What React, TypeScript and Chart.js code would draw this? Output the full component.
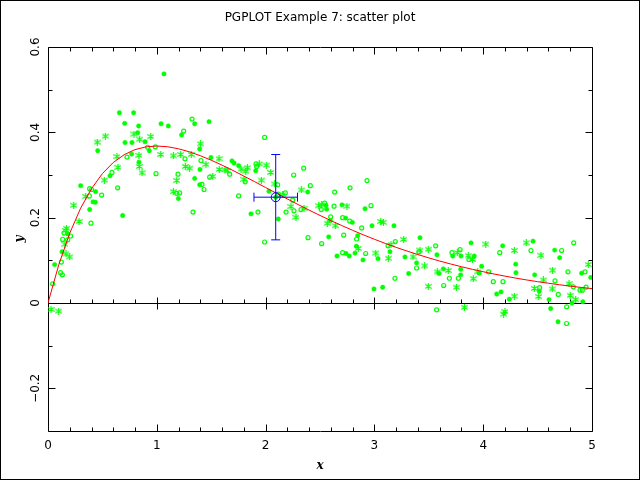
import React, { useEffect, useRef } from "react";
import { Chart, registerables } from "chart.js";

Chart.register(...registerables);

// ---- data ----
const titleText = "PGPLOT Example 7: scatter plot";
const xAxisLabel = "x";
const yAxisLabel = "y";
const xTickValues = [0, 1, 2, 3, 4, 5];
const xTickLabels = ["0", "1", "2", "3", "4", "5"];
const yTickValues = [0.6, 0.4, 0.2, 0, -0.2];
const yTickLabels = ["0.6", "0.4", "0.2", "0", "\u22120.2"];

// symbol 3 (asterisk)
const asteriskPoints: [number, number][] = [
  [0.527, 0.391], [0.453, 0.377], [0.79, 0.396], [0.944, 0.39], [0.842, 0.384],
  [0.634, 0.343], [0.836, 0.346], [1.036, 0.348], [1.152, 0.345], [0.839, 0.32],
  [0.643, 0.318], [0.864, 0.305], [0.518, 0.288], [0.346, 0.25], [1.152, 0.261],
  [1.183, 0.287], [0.236, 0.229], [0.285, 0.191], [0.171, 0.175], [0.165, 0.17],
  [0.156, 0.138], [0.165, 0.115], [0.199, 0.108], [0.028, -0.015], [0.098, -0.019],
  [1.4, 0.373], [1.219, 0.348], [1.317, 0.348], [1.572, 0.338], [1.452, 0.325],
  [1.942, 0.326], [2.006, 0.323], [1.262, 0.32], [1.302, 0.316], [1.574, 0.313],
  [1.627, 0.312], [1.648, 0.31], [1.774, 0.314], [1.832, 0.317], [1.817, 0.309],
  [2.047, 0.306], [1.514, 0.297], [1.801, 0.29], [1.961, 0.288], [2.083, 0.279],
  [2.328, 0.265], [2.157, 0.254], [2.233, 0.226], [2.353, 0.222], [2.279, 0.201],
  [2.488, 0.228], [2.515, 0.23], [2.748, 0.227], [2.567, 0.187], [2.641, 0.181],
  [3.058, 0.191], [3.082, 0.189], [2.852, 0.128], [3.012, 0.117], [3.128, 0.105],
  [3.153, 0.137], [3.269, 0.149], [3.419, 0.124], [3.355, 0.108], [3.495, 0.126],
  [3.462, 0.087], [3.578, 0.073], [3.495, 0.039],
  [4.023, 0.138], [4.396, 0.141], [4.286, 0.123], [4.531, 0.112], [3.762, 0.118],
  [3.863, 0.111], [3.9, 0.102], [3.679, 0.076], [3.753, 0.037], [3.949, 0.073],
  [3.909, 0.057], [4.286, 0.016], [4.553, 0.054], [4.47, 0.034], [4.51, 0.015],
  [4.638, 0.077], [4.635, 0.033], [4.789, 0.045], [4.8, 0.018], [4.85, 0.008],
  [4.966, 0.09], [3.827, -0.01], [4.2, -0.02], [4.188, -0.026],
];

// symbol 17 (filled circle)
const filledPoints: [number, number][] = [
  [1.066, 0.537], [0.656, 0.446], [0.787, 0.446], [0.705, 0.421], [0.833, 0.415],
  [1.039, 0.42], [1.106, 0.415], [0.824, 0.399], [0.708, 0.376], [0.772, 0.376],
  [0.892, 0.378], [0.931, 0.357], [0.457, 0.357], [0.769, 0.349], [0.836, 0.33],
  [0.57, 0.298], [0.3, 0.275], [0.438, 0.261], [1.198, 0.245], [0.414, 0.237],
  [0.435, 0.236], [0.383, 0.219], [0.686, 0.205], [0.181, 0.162], [0.129, 0.12],
  [0.061, 0.09],
  [1.348, 0.42], [1.48, 0.425], [1.228, 0.394], [1.394, 0.361], [1.498, 0.341],
  [1.691, 0.333], [1.71, 0.328], [1.752, 0.322], [1.397, 0.313], [1.909, 0.31],
  [1.348, 0.292], [2.387, 0.26], [1.394, 0.277], [2.031, 0.262], [2.117, 0.197],
  [1.866, 0.209], [2.093, 0.248],
  [2.555, 0.229], [2.561, 0.22], [2.702, 0.23], [2.914, 0.221], [2.595, 0.193],
  [2.736, 0.199], [2.797, 0.189], [2.978, 0.181], [3.18, 0.181], [2.58, 0.155],
  [2.847, 0.158], [2.834, 0.133], [2.656, 0.11], [2.739, 0.116], [2.769, 0.11],
  [2.822, 0.117], [2.895, 0.101], [3.033, 0.104], [3.143, 0.12], [3.419, 0.153],
  [3.281, 0.108], [3.575, 0.113], [3.388, 0.094], [3.315, 0.069], [3.594, 0.069],
  [3.634, 0.08], [2.996, 0.033], [3.076, 0.037],
  [3.888, 0.141], [4.179, 0.134], [4.458, 0.145], [4.657, 0.124], [4.703, 0.106],
  [3.72, 0.11], [3.796, 0.11], [3.918, 0.11], [3.986, 0.086], [3.793, 0.079],
  [3.793, 0.066], [3.964, 0.07], [4.299, 0.091], [4.301, 0.071], [4.124, 0.021],
  [4.164, 0.026], [4.24, 0.009], [4.473, 0.066], [4.515, 0.028], [4.605, 0.008],
  [4.816, 0.0], [4.915, 0.003], [4.905, 0.07], [4.988, 0.06], [4.62, -0.013],
  [4.688, -0.044],
];

// symbol 21 (open circle)
const openPoints: [number, number][] = [
  [0.916, 0.365], [0.986, 0.366], [0.726, 0.342], [0.993, 0.303], [0.588, 0.306],
  [0.64, 0.27], [0.383, 0.268], [0.401, 0.266], [0.38, 0.251], [0.493, 0.253],
  [1.183, 0.257], [1.195, 0.302], [0.395, 0.187], [0.147, 0.164], [0.208, 0.157],
  [0.135, 0.149], [0.181, 0.148], [0.123, 0.096], [0.116, 0.071], [0.132, 0.066],
  [0.043, 0.045],
  [1.324, 0.431], [1.247, 0.403], [1.991, 0.388], [1.259, 0.338], [1.406, 0.334],
  [1.912, 0.326], [1.918, 0.32], [1.67, 0.302], [1.486, 0.295], [1.813, 0.284],
  [2.111, 0.277], [2.35, 0.316], [2.258, 0.3], [2.411, 0.275], [1.415, 0.278],
  [1.434, 0.266], [1.21, 0.258], [1.752, 0.251], [2.117, 0.255], [2.181, 0.258],
  [2.249, 0.241], [2.261, 0.216], [2.325, 0.219], [2.188, 0.213], [1.93, 0.213],
  [1.333, 0.213], [1.991, 0.143], [2.39, 0.153],
  [2.932, 0.287], [2.776, 0.27], [2.635, 0.26], [2.543, 0.234], [2.512, 0.219],
  [2.629, 0.227], [2.969, 0.228], [2.598, 0.202], [2.708, 0.2], [2.773, 0.192],
  [2.883, 0.176], [2.718, 0.159], [2.837, 0.15], [2.515, 0.139], [2.708, 0.118],
  [2.92, 0.116], [3.125, 0.134], [3.192, 0.144], [3.41, 0.12], [3.563, 0.134],
  [3.388, 0.082], [3.189, 0.058], [3.637, 0.041], [3.572, -0.016],
  [4.152, 0.118], [4.439, 0.123], [4.721, 0.123], [4.832, 0.141], [3.713, 0.118],
  [3.787, 0.125], [3.869, 0.102], [3.689, 0.058], [3.772, 0.058], [4.05, 0.073],
  [4.093, 0.05], [4.182, 0.05], [4.519, 0.036], [4.66, 0.052], [4.69, 0.02],
  [4.779, 0.073], [4.828, 0.038], [4.89, 0.03], [4.911, 0.03], [4.936, 0.073],
  [4.945, 0.037], [4.767, -0.009], [4.767, -0.048],
];

// parent distribution curve (red)
const curveX = [
  0, 0.1, 0.2, 0.3, 0.4, 0.5, 0.6, 0.7, 0.8, 0.9, 1.0, 1.1, 1.2, 1.3, 1.4, 1.5, 1.6,
  1.7, 1.8, 1.9, 2.0, 2.1, 2.2, 2.3, 2.4, 2.5, 2.6, 2.7, 2.8, 2.9, 3.0, 3.1, 3.2, 3.3,
  3.4, 3.5, 3.6, 3.7, 3.8, 3.9, 4.0, 4.1, 4.2, 4.3, 4.4, 4.5, 4.6, 4.7, 4.8, 4.9, 5.0,
];
const curveY = [
  0, 0.0905, 0.1637, 0.2222, 0.2681, 0.3033, 0.3293, 0.3476, 0.3595, 0.3659, 0.3679,
  0.3662, 0.3614, 0.3543, 0.3452, 0.3347, 0.323, 0.3106, 0.2975, 0.2842, 0.2707,
  0.2572, 0.2438, 0.2306, 0.2177, 0.2052, 0.1931, 0.1815, 0.1703, 0.1596, 0.1494,
  0.1397, 0.1304, 0.1217, 0.1135, 0.1057, 0.0984, 0.0915, 0.085, 0.079, 0.0733,
  0.0679, 0.063, 0.0583, 0.054, 0.05, 0.0463, 0.0428, 0.0395, 0.0365, 0.0337,
];

// error-bar test point (blue)
const errX = 2.093;
const errY = 0.248;
const errSigX = 0.2;
const errSigY = 0.1;

const GREEN = "#00ff00";
const RED = "#ff0000";
const BLUE = "#0000ff";

function makeAsterisk(color: string): HTMLCanvasElement {
  const c = document.createElement("canvas");
  c.width = 7;
  c.height = 7;
  const g = c.getContext("2d")!;
  g.strokeStyle = color;
  g.lineWidth = 1.2;
  g.beginPath();
  g.moveTo(3.5, 0);
  g.lineTo(3.5, 7);
  g.moveTo(0.3, 1.6);
  g.lineTo(6.7, 5.4);
  g.moveTo(0.3, 5.4);
  g.lineTo(6.7, 1.6);
  g.stroke();
  return c;
}

const framePlugin = {
  id: "pgframe",
  beforeDraw(chart: any) {
    const ctx = chart.ctx as CanvasRenderingContext2D;
    ctx.save();
    ctx.fillStyle = "#ffffff";
    ctx.fillRect(0, 0, chart.width, chart.height);
    ctx.strokeStyle = "#000000";
    ctx.lineWidth = 1;
    ctx.strokeRect(0.5, 0.5, chart.width - 1, chart.height - 1);
    ctx.restore();
  },
  beforeDatasetsDraw(chart: any) {
    const ctx = chart.ctx as CanvasRenderingContext2D;
    const xs = chart.scales.x;
    const ys = chart.scales.y;
    const a = chart.chartArea;
    const L = Math.round(a.left) + 0.5;
    const R = Math.round(a.right) + 0.5;
    const T = Math.round(a.top) + 0.5;
    const B = Math.round(a.bottom) + 0.5;
    const Z = Math.round(ys.getPixelForValue(0)) + 0.5;
    ctx.save();
    ctx.strokeStyle = "#000000";
    ctx.lineWidth = 1;
    ctx.beginPath();
    ctx.rect(L, T, R - L, B - T);
    ctx.moveTo(L, Z);
    ctx.lineTo(R, Z);
    // x ticks every 0.2, major every 1
    for (let i = 0; i <= 25; i++) {
      const v = i / 5;
      const px = Math.round(xs.getPixelForValue(v)) + 0.5;
      const major = i % 5 === 0;
      const len = major ? 7 : 4;
      ctx.moveTo(px, B);
      ctx.lineTo(px, B - len);
      ctx.moveTo(px, T);
      ctx.lineTo(px, T + len);
      if (major) {
        ctx.moveTo(px, Z - 6);
        ctx.lineTo(px, Z + 6);
      } else {
        ctx.moveTo(px, Z);
        ctx.lineTo(px, Z - 4);
      }
    }
    // y ticks every 0.1, major every 0.2
    for (let i = -2; i <= 5; i++) {
      const v = i / 10;
      const py = Math.round(ys.getPixelForValue(v)) + 0.5;
      const major = i % 2 === 0;
      const len = major ? 7 : 4;
      ctx.moveTo(L, py);
      ctx.lineTo(L + len, py);
      ctx.moveTo(R, py);
      ctx.lineTo(R - len, py);
    }
    ctx.stroke();

    ctx.fillStyle = "#000000";
    ctx.font = "12px 'DejaVu Sans'";
    ctx.textAlign = "center";
    ctx.textBaseline = "middle";
    ctx.fillText(titleText, 320, 18);

    xTickValues.forEach((v, i) => {
      ctx.fillText(xTickLabels[i], xs.getPixelForValue(v), 446);
    });
    yTickValues.forEach((v, i) => {
      ctx.save();
      ctx.translate(36, ys.getPixelForValue(v));
      ctx.rotate(-Math.PI / 2);
      ctx.fillText(yTickLabels[i], 0, 0);
      ctx.restore();
    });

    ctx.font = "italic bold 12px 'DejaVu Serif'";
    ctx.fillText(xAxisLabel, (a.left + a.right) / 2, 466);
    ctx.save();
    ctx.translate(20, (a.top + a.bottom) / 2);
    ctx.rotate(-Math.PI / 2);
    ctx.fillText(yAxisLabel, 0, 0);
    ctx.restore();
    ctx.restore();
  },
};

export default function App() {
  const ref = useRef<HTMLCanvasElement | null>(null);

  useEffect(() => {
    if (!ref.current) return;
    const star = makeAsterisk(GREEN);
    const toXY = (p: [number, number]) => ({ x: p[0], y: p[1] });
    const chart = new Chart(ref.current, {
      type: "scatter",
      data: {
        datasets: [
          {
            label: "error x",
            data: [
              { x: errX - errSigX, y: errY },
              { x: errX + errSigX, y: errY },
            ],
            showLine: true,
            borderColor: BLUE,
            borderWidth: 1,
            pointStyle: "line",
            rotation: 90,
            pointRadius: 4.5,
            pointBorderColor: BLUE,
            pointBorderWidth: 1,
            order: 1,
          },
          {
            label: "error y",
            data: [
              { x: errX, y: errY - errSigY },
              { x: errX, y: errY + errSigY },
            ],
            showLine: true,
            borderColor: BLUE,
            borderWidth: 1,
            pointStyle: "line",
            rotation: 0,
            pointRadius: 4.5,
            pointBorderColor: BLUE,
            pointBorderWidth: 1,
            order: 1,
          },
          {
            label: "marker",
            data: [{ x: errX, y: errY }],
            pointStyle: "circle",
            pointRadius: 4.5,
            pointBackgroundColor: "rgba(0,0,0,0)",
            pointBorderColor: BLUE,
            pointBorderWidth: 1,
            order: 1,
          },
          {
            label: "curve",
            data: curveX.map((x, i) => ({ x, y: curveY[i] })),
            showLine: true,
            borderColor: RED,
            borderWidth: 1,
            pointRadius: 0,
            tension: 0,
            order: 2,
          },
          {
            label: "asterisk",
            data: asteriskPoints.map(toXY),
            pointStyle: star as any,
            pointRadius: 3,
            order: 3,
          },
          {
            label: "filled",
            data: filledPoints.map(toXY),
            pointStyle: "circle",
            pointRadius: 2.2,
            pointBackgroundColor: GREEN,
            pointBorderColor: GREEN,
            pointBorderWidth: 0.5,
            order: 3,
          },
          {
            label: "open",
            data: openPoints.map(toXY),
            pointStyle: "circle",
            pointRadius: 2,
            pointBackgroundColor: "rgba(0,0,0,0)",
            pointBorderColor: GREEN,
            pointBorderWidth: 1.2,
            order: 3,
          },
        ],
      },
      options: {
        responsive: false,
        animation: false,
        events: [],
        layout: { padding: { left: 48, right: 48, top: 47, bottom: 49 } },
        scales: {
          x: { type: "linear", min: 0, max: 5, display: false },
          y: { type: "linear", min: -0.3, max: 0.6, display: false },
        },
        plugins: {
          legend: { display: false },
          tooltip: { enabled: false },
          title: { display: false },
        },
      },
      plugins: [framePlugin],
    });
    return () => chart.destroy();
  }, []);

  return (
    <div style={{ position: "fixed", left: 0, top: 0, width: 640, height: 480, background: "#fff" }}>
      <canvas ref={ref} width={640} height={480} style={{ display: "block" }} />
    </div>
  );
}
